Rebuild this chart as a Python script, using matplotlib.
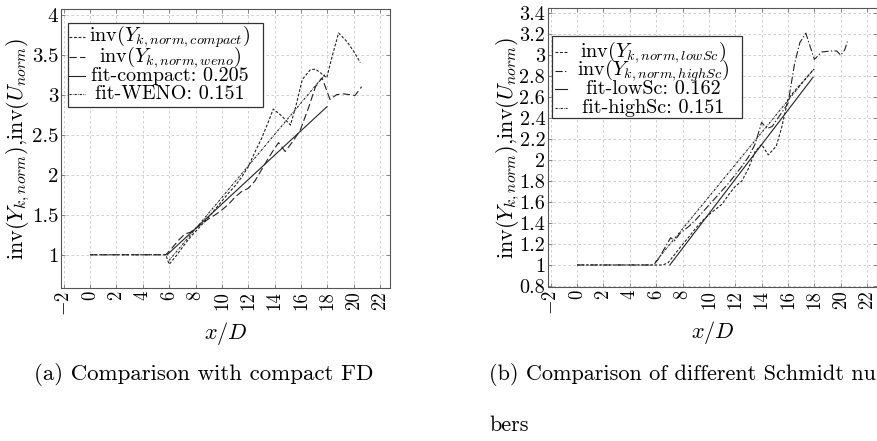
import matplotlib
matplotlib.use("Agg")
import matplotlib.pyplot as plt
from matplotlib.lines import Line2D
from matplotlib.patches import Rectangle

plt.rcParams['font.family'] = ['serif']
plt.rcParams['font.serif'] = ['cmr10', 'DejaVu Serif']
plt.rcParams['mathtext.fontset'] = 'cm'
plt.rcParams['axes.formatter.use_mathtext'] = True

# ---------------- data: panel (a) ----------------
compact_x = [0, 1, 2, 3, 4, 5, 5.75, 6.0, 6.5, 7.0, 7.5, 8.0, 8.5, 9.0, 9.5, 10.0, 10.5, 11.0,
             11.5, 12.0, 12.5, 13.0, 13.5, 13.9, 14.5, 15.2, 15.6, 16.1, 16.7, 17.1, 17.5,
             17.95, 18.4, 18.85, 19.5, 20.0, 20.5]
compact_y = [1.0, 1.0, 1.0, 1.0, 1.0, 1.0, 1.0, 0.88, 0.98, 1.09, 1.2, 1.29, 1.38, 1.47, 1.57,
             1.67, 1.77, 1.86, 1.97, 2.1, 2.28, 2.45, 2.65, 2.82, 2.74, 2.62, 2.85, 3.19, 3.31,
             3.32, 3.27, 3.21, 3.5, 3.77, 3.66, 3.54, 3.4]

weno_x = [0, 1, 2, 3, 4, 5, 5.75, 6.2, 6.7, 7.2, 7.6, 8.0, 8.5, 9.0, 9.5, 10.0, 10.5, 11.0,
          11.5, 12.0, 12.5, 13.0, 13.5, 14.0, 14.3, 14.8, 15.4, 15.95, 16.6, 17.1, 17.6,
          18.2, 18.7, 19.2, 19.7, 20.1, 20.6]
weno_y = [1.0, 1.0, 1.0, 1.0, 1.0, 1.0, 1.0, 1.08, 1.18, 1.26, 1.28, 1.33, 1.39, 1.45, 1.5,
          1.56, 1.63, 1.72, 1.79, 1.83, 1.92, 2.06, 2.2, 2.33, 2.4, 2.29, 2.42, 2.56, 2.85,
          3.1, 3.21, 2.94, 3.0, 3.01, 3.0, 2.99, 3.1]

fit_compact_x = [5.85, 17.97]
fit_compact_y = [1.0, 2.85]
fit_weno_x = [6.0, 17.8]
fit_weno_y = [0.93, 3.25]

# ---------------- data: panel (b) ----------------
lowsc_x = [0, 1, 2, 3, 4, 5, 6.0, 6.5, 6.9, 7.4, 7.9, 8.5, 9.0, 9.5, 10.0, 10.5, 11.0, 11.5,
           12.0, 12.5, 13.0, 13.5, 14.0, 14.5, 15.1, 15.5, 16.0, 16.5, 17.0, 17.5, 18.0]
lowsc_y = [1.0, 1.0, 1.0, 1.0, 1.0, 1.0, 1.0, 1.0, 1.02, 1.1, 1.18, 1.27, 1.35, 1.42, 1.48,
           1.53, 1.58, 1.67, 1.75, 1.8, 1.92, 2.08, 2.15, 2.05, 2.13, 2.3, 2.58, 2.66, 2.73,
           2.8, 2.87]

highsc_x = [0, 1, 2, 3, 4, 5, 5.8, 6.2, 6.6, 7.1, 7.4, 7.8, 8.5, 9.0, 9.5, 10.0, 10.5, 11.0,
            11.5, 12.0, 12.5, 13.0, 13.5, 14.0, 14.4, 14.8, 15.4, 16.0, 16.5, 16.9, 17.35,
            18.0, 18.55, 19.2, 19.7, 20.0, 20.3, 20.5]
highsc_y = [1.0, 1.0, 1.0, 1.0, 1.0, 1.0, 1.0, 1.06, 1.15, 1.26, 1.23, 1.3, 1.37, 1.43, 1.5,
            1.57, 1.64, 1.71, 1.78, 1.86, 1.94, 2.03, 2.15, 2.36, 2.3, 2.32, 2.43, 2.54, 2.92,
            3.12, 3.21, 2.96, 3.03, 3.04, 3.04, 3.0, 3.05, 3.13]

fit_lowsc_x = [7.04, 17.9]
fit_lowsc_y = [1.0, 2.79]
fit_highsc_x = [5.95, 17.9]
fit_highsc_y = [1.03, 2.86]

xticks = list(range(-2, 24, 2))
yticks_a = [1, 1.5, 2, 2.5, 3, 3.5, 4]
yticks_b = [0.8, 1.0, 1.2, 1.4, 1.6, 1.8, 2.0, 2.2, 2.4, 2.6, 2.8, 3.0, 3.2, 3.4]

labels_a = [r"$\mathrm{inv}(Y_{k,norm,compact})$", r"$\mathrm{inv}(Y_{k,norm,weno})$",
            "fit-compact: 0.205", "fit-WENO: 0.151"]
labels_b = [r"$\mathrm{inv}(Y_{k,norm,lowSc})$", r"$\mathrm{inv}(Y_{k,norm,highSc})$",
            "fit-lowSc: 0.162", "fit-highSc: 0.151"]

ylabel = r"$\mathrm{inv}(Y_{k,norm})$,$\mathrm{inv}(U_{norm})$"
xlabel = r"$x/D$"
caption_a = "(a) Comparison with compact FD"
caption_b1 = "(b) Comparison of different Schmidt nu"
caption_b2 = "bers"

# ---------------- styles ----------------
LW = 0.8
SHORT = (0, (2.5, 1.6))
LONG = (0, (6.5, 3.0))
FITDOT = (0, (2.0, 1.0, 0.6, 1.0))
LONGDD = (0, (6.5, 2.0, 1.2, 2.0))
COL = '#222222'

W, H = 878, 441
fig = plt.figure(figsize=(W / 100, H / 100), dpi=100)


def px_axes(l, t, r, b):
    return fig.add_axes([l / W, 1 - b / H, (r - l) / W, (b - t) / H])


def style_axes(ax, yticks, ylim, ylabels, ytick_fs):
    ax.set_xlim(-2.2, 22.75)
    ax.set_ylim(*ylim)
    ax.set_xticks(xticks)
    ax.set_xticklabels([("$-2$" if v < 0 else str(v)) for v in xticks], rotation=90,
                       fontsize=13.5)
    ax.set_yticks(yticks)
    ax.set_yticklabels(ylabels, fontsize=ytick_fs)
    ax.grid(True, color='#c8c8c8', linestyle=(0, (3, 3)), linewidth=0.6)
    ax.set_axisbelow(True)
    for s in ax.spines.values():
        s.set_color('#555555')
        s.set_linewidth(0.8)
    ax.tick_params(direction='in', length=3, width=0.6, color='#777777', pad=2,
                   top=True, right=True)
    ax.set_xlabel(xlabel, fontsize=16, labelpad=3)


def manual_legend(box, rows_y, hx0, hx1, text_cx, styles, labels, fs):
    l, t, r, b = box
    fig.patches.append(Rectangle((l / W, 1 - b / H), (r - l) / W, (b - t) / H,
                                 transform=fig.transFigure, facecolor='white',
                                 edgecolor='#333333', linewidth=0.9, zorder=5))
    for y, ls, lab in zip(rows_y, styles, labels):
        fig.lines.append(Line2D([hx0 / W, hx1 / W], [1 - y / H, 1 - y / H],
                                transform=fig.transFigure, color=COL, lw=LW,
                                linestyle=ls, zorder=6))
        fig.text(text_cx / W, 1 - y / H, lab, ha='center', va='center',
                 fontsize=fs, zorder=7)


# ---------------- panel (a) ----------------
ax1 = px_axes(61, 9, 390, 288)
ax1.plot(compact_x, compact_y, color=COL, lw=LW, linestyle=SHORT)
ax1.plot(weno_x, weno_y, color=COL, lw=LW, linestyle=LONG)
ax1.plot(fit_compact_x, fit_compact_y, color=COL, lw=LW, linestyle='-')
ax1.plot(fit_weno_x, fit_weno_y, color=COL, lw=LW, linestyle=FITDOT)
style_axes(ax1, yticks_a, (0.585, 4.07), ["1", "1.5", "2", "2.5", "3", "3.5", "4"], 15)
ax1.set_ylabel(ylabel, fontsize=16, labelpad=0)
manual_legend((68, 23, 263, 107), [37, 57, 76, 94], 69, 85, 170,
              [SHORT, LONG, '-', FITDOT], labels_a, 14.5)

# ---------------- panel (b) ----------------
ax2 = px_axes(548, 8, 877, 287)
ax2.plot(lowsc_x, lowsc_y, color=COL, lw=LW, linestyle=SHORT)
ax2.plot(highsc_x, highsc_y, color=COL, lw=LW, linestyle=LONGDD)
ax2.plot(fit_lowsc_x, fit_lowsc_y, color=COL, lw=LW, linestyle='-')
ax2.plot(fit_highsc_x, fit_highsc_y, color=COL, lw=LW, linestyle=FITDOT)
style_axes(ax2, yticks_b, (0.79, 3.45),
           [("%g" % v) for v in yticks_b], 14.5)
ax2.set_ylabel(ylabel, fontsize=16, labelpad=-2)
manual_legend((552, 36, 742, 118), [52, 71, 89, 108], 555, 567, 653,
              [SHORT, LONGDD, '-', FITDOT], labels_b, 14.5)

# ---------------- captions ----------------
fig.text(204 / W, 1 - 375 / H, caption_a, ha='center', va='center', fontsize=16.5)
fig.text(489 / W, 1 - 375 / H, caption_b1, ha='left', va='center', fontsize=16)
fig.text(489 / W, 1 - 425 / H, caption_b2, ha='left', va='center', fontsize=16)

fig.savefig("out.png", dpi=100)
